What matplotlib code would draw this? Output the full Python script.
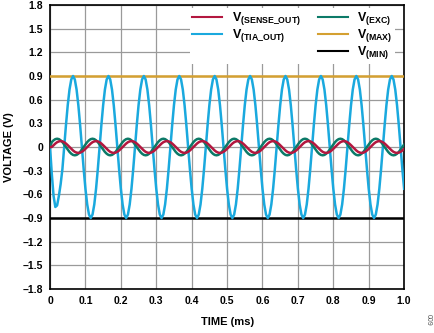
import matplotlib
matplotlib.use('Agg')
import matplotlib.pyplot as plt
import numpy as np

plt.rcParams['font.family'] = ['Liberation Sans', 'DejaVu Sans']
plt.rcParams['font.weight'] = 'bold'
plt.rcParams['mathtext.fontset'] = 'custom'
plt.rcParams['mathtext.rm'] = 'Liberation Sans:bold'
plt.rcParams['mathtext.it'] = 'Liberation Sans:bold'
plt.rcParams['mathtext.bf'] = 'Liberation Sans:bold'

# time axis, ms (0.005 ms steps)
time_ms = np.round(np.arange(0, 201) * 0.005, 3)

# V(TIA_OUT) (start-up dip in the first period)
v_tia = [
    0.0, -0.34, -0.62, -0.76, -0.74, -0.62, -0.47, -0.278, 0.0, 0.278, 0.529, 0.728, 0.856, 0.900, 0.856, 0.728, 0.529, 0.278, 0.0, -0.278,
    -0.529, -0.728, -0.856, -0.900, -0.856, -0.728, -0.529, -0.278, 0.0, 0.278, 0.529, 0.728, 0.856, 0.900, 0.856, 0.728, 0.529, 0.278, 0.0, -0.278,
    -0.529, -0.728, -0.856, -0.900, -0.856, -0.728, -0.529, -0.278, 0.0, 0.278, 0.529, 0.728, 0.856, 0.900, 0.856, 0.728, 0.529, 0.278, 0.0, -0.278,
    -0.529, -0.728, -0.856, -0.900, -0.856, -0.728, -0.529, -0.278, 0.0, 0.278, 0.529, 0.728, 0.856, 0.900, 0.856, 0.728, 0.529, 0.278, 0.0, -0.278,
    -0.529, -0.728, -0.856, -0.900, -0.856, -0.728, -0.529, -0.278, 0.0, 0.278, 0.529, 0.728, 0.856, 0.900, 0.856, 0.728, 0.529, 0.278, 0.0, -0.278,
    -0.529, -0.728, -0.856, -0.900, -0.856, -0.728, -0.529, -0.278, 0.0, 0.278, 0.529, 0.728, 0.856, 0.900, 0.856, 0.728, 0.529, 0.278, 0.0, -0.278,
    -0.529, -0.728, -0.856, -0.900, -0.856, -0.728, -0.529, -0.278, 0.0, 0.278, 0.529, 0.728, 0.856, 0.900, 0.856, 0.728, 0.529, 0.278, 0.0, -0.278,
    -0.529, -0.728, -0.856, -0.900, -0.856, -0.728, -0.529, -0.278, 0.0, 0.278, 0.529, 0.728, 0.856, 0.900, 0.856, 0.728, 0.529, 0.278, 0.0, -0.278,
    -0.529, -0.728, -0.856, -0.900, -0.856, -0.728, -0.529, -0.278, 0.0, 0.278, 0.529, 0.728, 0.856, 0.900, 0.856, 0.728, 0.529, 0.278, 0.0, -0.278,
    -0.529, -0.728, -0.856, -0.900, -0.856, -0.728, -0.529, -0.278, 0.0, 0.278, 0.529, 0.728, 0.856, 0.900, 0.856, 0.728, 0.529, 0.278, 0.0, -0.278,
    -0.529,
]

# V(EXC)
v_exc = [
    0.0, 0.062, 0.085, 0.100, 0.105, 0.100, 0.085, 0.062, 0.032, 0.0, -0.032, -0.062, -0.085, -0.100, -0.105, -0.100, -0.085, -0.062, -0.032, 0.0,
    0.032, 0.062, 0.085, 0.100, 0.105, 0.100, 0.085, 0.062, 0.032, 0.0, -0.032, -0.062, -0.085, -0.100, -0.105, -0.100, -0.085, -0.062, -0.032, 0.0,
    0.032, 0.062, 0.085, 0.100, 0.105, 0.100, 0.085, 0.062, 0.032, 0.0, -0.032, -0.062, -0.085, -0.100, -0.105, -0.100, -0.085, -0.062, -0.032, 0.0,
    0.032, 0.062, 0.085, 0.100, 0.105, 0.100, 0.085, 0.062, 0.032, 0.0, -0.032, -0.062, -0.085, -0.100, -0.105, -0.100, -0.085, -0.062, -0.032, 0.0,
    0.032, 0.062, 0.085, 0.100, 0.105, 0.100, 0.085, 0.062, 0.032, 0.0, -0.032, -0.062, -0.085, -0.100, -0.105, -0.100, -0.085, -0.062, -0.032, 0.0,
    0.032, 0.062, 0.085, 0.100, 0.105, 0.100, 0.085, 0.062, 0.032, 0.0, -0.032, -0.062, -0.085, -0.100, -0.105, -0.100, -0.085, -0.062, -0.032, 0.0,
    0.032, 0.062, 0.085, 0.100, 0.105, 0.100, 0.085, 0.062, 0.032, 0.0, -0.032, -0.062, -0.085, -0.100, -0.105, -0.100, -0.085, -0.062, -0.032, 0.0,
    0.032, 0.062, 0.085, 0.100, 0.105, 0.100, 0.085, 0.062, 0.032, 0.0, -0.032, -0.062, -0.085, -0.100, -0.105, -0.100, -0.085, -0.062, -0.032, 0.0,
    0.032, 0.062, 0.085, 0.100, 0.105, 0.100, 0.085, 0.062, 0.032, 0.0, -0.032, -0.062, -0.085, -0.100, -0.105, -0.100, -0.085, -0.062, -0.032, 0.0,
    0.032, 0.062, 0.085, 0.100, 0.105, 0.100, 0.085, 0.062, 0.032, 0.0, -0.032, -0.062, -0.085, -0.100, -0.105, -0.100, -0.085, -0.062, -0.032, 0.0,
    0.032,
]

# V(SENSE_OUT)
v_sense = [
    0.0, 0.0, 0.023, 0.044, 0.061, 0.071, 0.075, 0.071, 0.061, 0.044, 0.023, 0.0, -0.023, -0.044, -0.061, -0.071, -0.075, -0.071, -0.061, -0.044,
    -0.023, 0.0, 0.023, 0.044, 0.061, 0.071, 0.075, 0.071, 0.061, 0.044, 0.023, 0.0, -0.023, -0.044, -0.061, -0.071, -0.075, -0.071, -0.061, -0.044,
    -0.023, 0.0, 0.023, 0.044, 0.061, 0.071, 0.075, 0.071, 0.061, 0.044, 0.023, 0.0, -0.023, -0.044, -0.061, -0.071, -0.075, -0.071, -0.061, -0.044,
    -0.023, 0.0, 0.023, 0.044, 0.061, 0.071, 0.075, 0.071, 0.061, 0.044, 0.023, 0.0, -0.023, -0.044, -0.061, -0.071, -0.075, -0.071, -0.061, -0.044,
    -0.023, 0.0, 0.023, 0.044, 0.061, 0.071, 0.075, 0.071, 0.061, 0.044, 0.023, 0.0, -0.023, -0.044, -0.061, -0.071, -0.075, -0.071, -0.061, -0.044,
    -0.023, 0.0, 0.023, 0.044, 0.061, 0.071, 0.075, 0.071, 0.061, 0.044, 0.023, 0.0, -0.023, -0.044, -0.061, -0.071, -0.075, -0.071, -0.061, -0.044,
    -0.023, 0.0, 0.023, 0.044, 0.061, 0.071, 0.075, 0.071, 0.061, 0.044, 0.023, 0.0, -0.023, -0.044, -0.061, -0.071, -0.075, -0.071, -0.061, -0.044,
    -0.023, 0.0, 0.023, 0.044, 0.061, 0.071, 0.075, 0.071, 0.061, 0.044, 0.023, 0.0, -0.023, -0.044, -0.061, -0.071, -0.075, -0.071, -0.061, -0.044,
    -0.023, 0.0, 0.023, 0.044, 0.061, 0.071, 0.075, 0.071, 0.061, 0.044, 0.023, 0.0, -0.023, -0.044, -0.061, -0.071, -0.075, -0.071, -0.061, -0.044,
    -0.023, 0.0, 0.023, 0.044, 0.061, 0.071, 0.075, 0.071, 0.061, 0.044, 0.023, 0.0, -0.023, -0.044, -0.061, -0.071, -0.075, -0.071, -0.061, -0.044,
    -0.023,
]

v_max = 0.9
v_min = -0.9

x_ticks = [0, 0.1, 0.2, 0.3, 0.4, 0.5, 0.6, 0.7, 0.8, 0.9, 1.0]
x_labels = ['0', '0.1', '0.2', '0.3', '0.4', '0.5', '0.6', '0.7', '0.8', '0.9', '1.0']
y_ticks = [-1.8, -1.5, -1.2, -0.9, -0.6, -0.3, 0, 0.3, 0.6, 0.9, 1.2, 1.5, 1.8]
y_labels = ['\u20131.8', '\u20131.5', '\u20131.2', '\u20130.9', '\u20130.6', '\u20130.3', '0',
            '0.3', '0.6', '0.9', '1.2', '1.5', '1.8']

fig = plt.figure(figsize=(4.35, 3.33), dpi=100)
ax = fig.add_axes([0.115, 0.132, 0.814, 0.853])

l_max = ax.axhline(v_max, color='#d4a031', lw=1.8, zorder=3)
l_min = ax.axhline(v_min, color='black', lw=1.8, zorder=3)
l_tia, = ax.plot(time_ms, v_tia, color='#1aa9de', lw=1.8, zorder=4)
l_exc, = ax.plot(time_ms, v_exc, color='#0c7a68', lw=1.8, zorder=5)
l_sense, = ax.plot(time_ms, v_sense, color='#b3173f', lw=1.8, zorder=6)

ax.set_xlim(0, 1.0)
ax.set_ylim(-1.8, 1.8)
ax.set_xticks(x_ticks)
ax.set_xticklabels(x_labels)
ax.set_yticks(y_ticks)
ax.set_yticklabels(y_labels)
ax.tick_params(axis='both', length=0, labelsize=7.5, pad=5)
ax.grid(True, color='#9a9a9a', lw=0.9)
ax.set_axisbelow(True)
for sp in ax.spines.values():
    sp.set_linewidth(1.2)

ax.set_xlabel('TIME (ms)', fontsize=8, fontweight='bold', labelpad=8)
ax.set_ylabel('VOLTAGE (V)', fontsize=8, fontweight='bold', labelpad=6)

blank, = ax.plot([], [], color='none')
handles = [l_sense, l_tia, blank, l_exc, l_max, l_min]
labels = ['V$_{\\mathrm{(SENSE\\_OUT)}}$', 'V$_{\\mathrm{(TIA\\_OUT)}}$', '',
          'V$_{\\mathrm{(EXC)}}$', 'V$_{\\mathrm{(MAX)}}$', 'V$_{\\mathrm{(MIN)}}$']
leg = ax.legend(handles, labels, ncol=2, loc='upper right', fontsize=9,
                bbox_to_anchor=(0.975, 0.99),
                frameon=True, fancybox=False, edgecolor='none', facecolor='white',
                framealpha=1.0, borderpad=0.2, labelspacing=0.0, handlelength=2.4,
                handletextpad=0.75, columnspacing=1.4, borderaxespad=0.0)
leg.set_zorder(10)
for h in leg.legend_handles:
    h.set_linewidth(1.5)

fig.text(0.985, 0.04, '009', rotation=270, fontsize=5, color='#555555',
         fontweight='normal', ha='center', va='center')

fig.savefig('out.png', dpi=100)
